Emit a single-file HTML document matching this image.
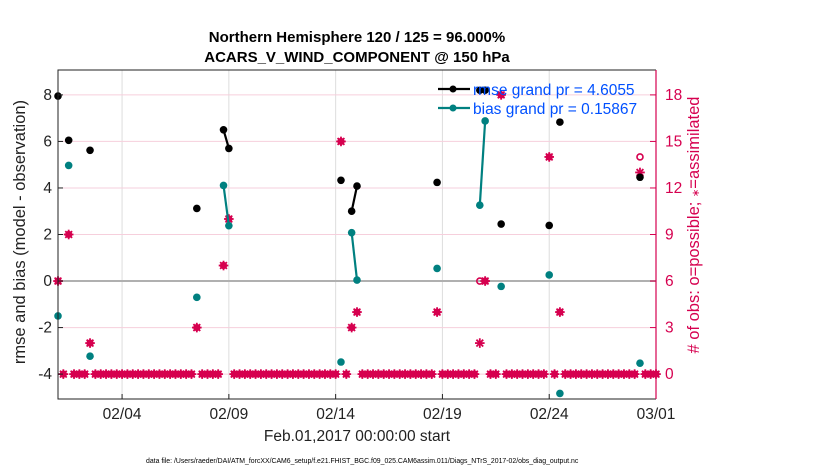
<!DOCTYPE html>
<html><head><meta charset="utf-8"><style>
body{margin:0;background:#fff;}
svg text{font-family:"Liberation Sans",sans-serif;}
</style></head><body>
<svg id="chart" width="830" height="470" xmlns="http://www.w3.org/2000/svg">
<rect width="830" height="470" fill="#fff"/>
<g id="grid"></g>
<g id="marks"></g>
<g id="axes"></g>
<text x="357" y="42" text-anchor="middle" font-size="15" font-weight="bold">Northern Hemisphere 120 / 125 = 96.000%</text>
<text x="357" y="62" text-anchor="middle" font-size="15" font-weight="bold">ACARS_V_WIND_COMPONENT @ 150 hPa</text>
<text x="357" y="441" text-anchor="middle" font-size="15.5" fill="#222">Feb.01,2017 00:00:00 start</text>
<text transform="translate(25,232) rotate(-90)" text-anchor="middle" font-size="16.5" fill="#222">rmse and bias (model - observation)</text>
<text transform="translate(699,225) rotate(-90)" text-anchor="middle" font-size="16.5" fill="#d6004f"># of obs: o=possible; <tspan font-size="10">∗</tspan>=assimilated</text>
<text x="146" y="463" font-size="6.9" fill="#000">data file: /Users/raeder/DAI/ATM_forcXX/CAM6_setup/f.e21.FHIST_BGC.f09_025.CAM6assim.011/Diags_NTrS_2017-02/obs_diag_output.nc</text>
<g id="legend"></g>
</svg>
<script>
// data: time index in 6-hour steps from Feb 01 00:00
const rmseT = [0,2,6,26,31,32,53,55,56,71,79,80,83,92,94,109];
const rmseV = [7.95,6.05,5.62,3.12,6.5,5.7,4.33,3.0,4.08,4.24,8.2,8.2,2.45,2.39,6.83,4.46];
const biasT = [0,2,6,26,31,32,53,55,56,71,79,80,83,92,94,109];
const biasV = [-1.5,4.97,-3.23,-0.7,4.11,2.38,-3.48,2.08,0.04,0.54,3.26,6.88,-0.23,0.26,-4.83,-3.53];
const possNonZeroT = [0,2,6,26,31,32,53,55,56,71,79,80,83,92,94,109];
const possNonZeroV = [6,9,2,3,7,10,15,3,4,4,6,6,18,14,4,14];
const assimNonZeroV = [6,9,2,3,7,10,15,3,4,4,2,6,18,14,4,13];
const nSteps = 113;
const xTickLabels = ['02/04','02/09','02/14','02/19','02/24','03/01'];
const xTickDays = [3,8,13,18,23,28];
const yTicks = [-4,-2,0,2,4,6,8];
const rTicks = [0,3,6,9,12,15,18];

const L=58,R=656,T=70,B=399, ymin=-5.07, ymax=9.07;
const xs=t=>L+(t/4)*(R-L)/28;
const xd=d=>L+d*(R-L)/28;
const ys=v=>T+(ymax-v)/(ymax-ymin)*(B-T);
const yr=c=>ys(c/1.5-4);
const NS='http://www.w3.org/2000/svg';
function mk(p,tag,at){const e=document.createElementNS(NS,tag);for(const k in at)e.setAttribute(k,at[k]);p.appendChild(e);return e;}
const grid=document.getElementById('grid'),marks=document.getElementById('marks'),axes=document.getElementById('axes');

xTickDays.forEach((d,i)=>{
  const g=mk(grid,'line',{x1:xd(d),x2:xd(d),y1:T,y2:B,stroke:'#ddd','stroke-width':1});
  
  
  const tk=mk(axes,'line',{x1:xd(d),x2:xd(d),y1:B,y2:B-5,stroke:'#222'});
  
  
  const tx=mk(axes,'text',{x:xd(d),y:B+20,'text-anchor':'middle','font-size':15.5,fill:'#222'});
  tx.textContent=xTickLabels[i];
  
  
});
rTicks.forEach(c=>{
  const g=mk(grid,'line',{x1:L,x2:R,y1:yr(c),y2:yr(c),stroke:'#f6cfdc','stroke-width':1});
  
  
  const tk=mk(axes,'line',{x1:R,x2:R-6,y1:yr(c),y2:yr(c),stroke:'#d6004f'});
  
  
  const tx=mk(axes,'text',{x:R+9,y:yr(c)+5,'font-size':15.5,fill:'#d6004f'});
  tx.textContent=c;
  
  
});
const zl=mk(grid,'line',{x1:L,x2:R,y1:ys(0),y2:ys(0),stroke:'#b0b0b0','stroke-width':2});


yTicks.forEach(v=>{
  const tk=mk(axes,'line',{x1:L,x2:L+5,y1:ys(v),y2:ys(v),stroke:'#222'});
  
  
  const tx=mk(axes,'text',{x:L-6,y:ys(v)+5,'text-anchor':'end','font-size':15.5,fill:'#222'});
  tx.textContent=v;
  
  
});
const la=mk(axes,'path',{d:`M${R},${T}H${L}V${B}H${R}`,fill:'none',stroke:'#222','stroke-width':1});


const ra=mk(axes,'line',{x1:R,x2:R,y1:T,y2:B,stroke:'#d6004f','stroke-width':1.2});



function obsMarker(x,y,filled){
  const g=mk(marks,'g',{});
  
  
  if(filled) mk(g,'circle',{cx:x,cy:y,r:3.6,fill:'#d6004f'});
  for(let a=0;a<4;a++){const an=a*Math.PI/4;mk(g,'line',{x1:x-4.8*Math.cos(an),y1:y-4.8*Math.sin(an),x2:x+4.8*Math.cos(an),y2:y+4.8*Math.sin(an),stroke:'#d6004f','stroke-width':1.8});}
}
for(let t=0;t<nSteps;t++){
  const i=possNonZeroT.indexOf(t);
  const p=i<0?0:possNonZeroV[i], a=i<0?0:assimNonZeroV[i];
  if(p!==a){
    const c=mk(marks,'circle',{cx:xs(t),cy:yr(p),r:3,fill:'none',stroke:'#d6004f','stroke-width':1.6});
    
    
    obsMarker(xs(t),yr(a),false);
  } else obsMarker(xs(t),yr(a),true);
}
function series(T_,V,color,name){
  for(let i=1;i<T_.length;i++){
    if(T_[i]-T_[i-1]===1){
      const l=mk(marks,'line',{x1:xs(T_[i-1]),y1:ys(V[i-1]),x2:xs(T_[i]),y2:ys(V[i]),stroke:color,'stroke-width':2.2});
      
      
    }
  }
  T_.forEach((t,i)=>{
    const c=mk(marks,'circle',{cx:xs(t),cy:ys(V[i]),r:3.8,fill:color});
    
    
  });
}
series(biasT,biasV,'#008080','bias');
series(rmseT,rmseV,'#000','rmse');

const lg=document.getElementById('legend');
[['#000','rmse grand pr = 4.6055',89],['#008080','bias grand pr = 0.15867',108]].forEach(([c,txt,y])=>{
  const l=mk(lg,'line',{x1:438,x2:470,y1:y,y2:y,stroke:c,'stroke-width':2.2});
  
  
  const d=mk(lg,'circle',{cx:453,cy:y,r:3.5,fill:c});
  
  
  const tx=mk(lg,'text',{x:473,y:y+6,'font-size':15.5,fill:'#0050ff'});
  tx.textContent=txt;
  
  
});
</script>
</body></html>
